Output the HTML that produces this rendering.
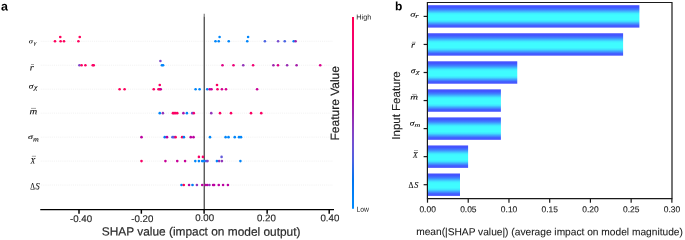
<!DOCTYPE html>
<html><head><meta charset="utf-8"><style>
html,body{margin:0;padding:0;background:#fff;}
body{width:685px;height:240px;overflow:hidden;}
svg{display:block;will-change:transform;}
text{text-rendering:geometricPrecision;}

</style></head><body>
<svg width="685" height="240" viewBox="0 0 685 240">
<defs>
<linearGradient id="cb" x1="0" y1="1" x2="0" y2="0"><stop offset="0.00" stop-color="#008bfb"/><stop offset="0.05" stop-color="#0084f9"/><stop offset="0.10" stop-color="#007cf5"/><stop offset="0.15" stop-color="#0074f0"/><stop offset="0.20" stop-color="#236cea"/><stop offset="0.25" stop-color="#4b63e3"/><stop offset="0.30" stop-color="#6359da"/><stop offset="0.35" stop-color="#754fd1"/><stop offset="0.40" stop-color="#8443c6"/><stop offset="0.45" stop-color="#9135ba"/><stop offset="0.50" stop-color="#9b23ad"/><stop offset="0.55" stop-color="#ab15a7"/><stop offset="0.60" stop-color="#bb00a0"/><stop offset="0.65" stop-color="#c80098"/><stop offset="0.70" stop-color="#d5008f"/><stop offset="0.75" stop-color="#e00086"/><stop offset="0.80" stop-color="#e9007c"/><stop offset="0.85" stop-color="#f20072"/><stop offset="0.90" stop-color="#f90067"/><stop offset="0.95" stop-color="#fe005c"/><stop offset="1.00" stop-color="#ff0051"/></linearGradient>
<linearGradient id="bar" x1="0" y1="0" x2="0" y2="1">
<stop offset="0" stop-color="#4650ff"/>
<stop offset="0.1" stop-color="#4258ff"/>
<stop offset="0.2" stop-color="#4082ff"/>
<stop offset="0.3" stop-color="#3fc4ff"/>
<stop offset="0.38" stop-color="#3ff2ff"/>
<stop offset="0.46" stop-color="#3ffcff"/>
<stop offset="0.64" stop-color="#3ffcff"/>
<stop offset="0.72" stop-color="#3fe2ff"/>
<stop offset="0.8" stop-color="#40a8ff"/>
<stop offset="0.9" stop-color="#4262ff"/>
<stop offset="1" stop-color="#4650ff"/>
</linearGradient>
</defs>
<rect width="685" height="240" fill="#fff"/>
<text transform="translate(1.1,10.4) rotate(0.05)" font-family="Liberation Sans" font-weight="bold" font-size="12.5" fill="#000">a</text>
<line x1="40.8" y1="41.25" x2="333" y2="41.25" stroke="#e2e2e2" stroke-width="0.5" stroke-dasharray="0.9 1.0"/>
<line x1="40.8" y1="65.22" x2="333" y2="65.22" stroke="#e2e2e2" stroke-width="0.5" stroke-dasharray="0.9 1.0"/>
<line x1="40.8" y1="89.19" x2="333" y2="89.19" stroke="#e2e2e2" stroke-width="0.5" stroke-dasharray="0.9 1.0"/>
<line x1="40.8" y1="113.16" x2="333" y2="113.16" stroke="#e2e2e2" stroke-width="0.5" stroke-dasharray="0.9 1.0"/>
<line x1="40.8" y1="137.13" x2="333" y2="137.13" stroke="#e2e2e2" stroke-width="0.5" stroke-dasharray="0.9 1.0"/>
<line x1="40.8" y1="161.1" x2="333" y2="161.1" stroke="#e2e2e2" stroke-width="0.5" stroke-dasharray="0.9 1.0"/>
<line x1="40.8" y1="185.07" x2="333" y2="185.07" stroke="#e2e2e2" stroke-width="0.5" stroke-dasharray="0.9 1.0"/>
<line x1="204.25" y1="13.75" x2="204.25" y2="16.6" stroke="#8a8a8a" stroke-width="1.3"/><line x1="204.25" y1="16.6" x2="204.25" y2="209.6" stroke="#4a4a4a" stroke-width="1.3"/>
<circle cx="55" cy="41.25" r="1.3" fill="#fe005c"/>
<circle cx="60.6" cy="41.25" r="1.3" fill="#fe005c"/>
<circle cx="60.25" cy="37.05" r="1.3" fill="#fe005c"/>
<circle cx="64" cy="41.25" r="1.3" fill="#fe005c"/>
<circle cx="78.4" cy="41.25" r="1.3" fill="#fe005c"/>
<circle cx="79.75" cy="37.05" r="1.3" fill="#fe005c"/>
<circle cx="215.5" cy="41.25" r="1.3" fill="#0086fa"/>
<circle cx="218.75" cy="41.25" r="1.3" fill="#0086fa"/>
<circle cx="219.6" cy="37.05" r="1.3" fill="#0086fa"/>
<circle cx="228.75" cy="41.25" r="1.3" fill="#0086fa"/>
<circle cx="247.25" cy="41.25" r="1.3" fill="#0086fa"/>
<circle cx="248.1" cy="37.05" r="1.3" fill="#0086fa"/>
<circle cx="264.9" cy="41.25" r="1.3" fill="#4b63e3"/>
<circle cx="278.1" cy="41.25" r="1.3" fill="#784ccf"/>
<circle cx="284.75" cy="41.25" r="1.3" fill="#4b63e3"/>
<circle cx="293.75" cy="41.25" r="1.3" fill="#007ff7"/>
<circle cx="295.6" cy="41.25" r="1.3" fill="#9b23ad"/>
<circle cx="79.4" cy="65.22" r="1.3" fill="#8443c6"/>
<circle cx="81.6" cy="65.22" r="1.3" fill="#fb0063"/>
<circle cx="85.4" cy="65.22" r="1.3" fill="#fb0063"/>
<circle cx="92.75" cy="65.22" r="1.3" fill="#fb0063"/>
<circle cx="93.75" cy="65.22" r="1.3" fill="#fb0063"/>
<circle cx="160.4" cy="61.02" r="1.3" fill="#7e48ca"/>
<circle cx="161.9" cy="65.22" r="1.3" fill="#0086fa"/>
<circle cx="163.1" cy="65.22" r="1.3" fill="#0086fa"/>
<circle cx="222.5" cy="65.22" r="1.3" fill="#e00086"/>
<circle cx="233.5" cy="65.22" r="1.3" fill="#ed0078"/>
<circle cx="243.25" cy="65.22" r="1.3" fill="#9135ba"/>
<circle cx="253.1" cy="65.22" r="1.3" fill="#f20072"/>
<circle cx="273.4" cy="65.22" r="1.3" fill="#9b23ad"/>
<circle cx="278" cy="65.22" r="1.3" fill="#d9008b"/>
<circle cx="287.1" cy="65.22" r="1.3" fill="#972bb2"/>
<circle cx="296.6" cy="65.22" r="1.3" fill="#a51ba9"/>
<circle cx="320.25" cy="65.22" r="1.3" fill="#d9008b"/>
<circle cx="119.6" cy="89.19" r="1.3" fill="#fe005c"/>
<circle cx="124.6" cy="89.19" r="1.3" fill="#fe005c"/>
<circle cx="153.75" cy="89.19" r="1.3" fill="#fb0063"/>
<circle cx="158.5" cy="89.19" r="1.3" fill="#fb0063"/>
<circle cx="159.75" cy="89.19" r="1.3" fill="#f90067"/>
<circle cx="159.75" cy="84.99" r="1.3" fill="#fb0063"/>
<circle cx="160.75" cy="89.19" r="1.3" fill="#c80098"/>
<circle cx="195.6" cy="89.19" r="1.3" fill="#0086fa"/>
<circle cx="199.6" cy="89.19" r="1.3" fill="#0086fa"/>
<circle cx="207.25" cy="89.19" r="1.3" fill="#0086fa"/>
<circle cx="209.75" cy="89.19" r="1.3" fill="#c80098"/>
<circle cx="211.5" cy="89.19" r="1.3" fill="#c80098"/>
<circle cx="217.5" cy="89.19" r="1.3" fill="#f90067"/>
<circle cx="217" cy="84.99" r="1.3" fill="#fb0063"/>
<circle cx="221.9" cy="89.19" r="1.3" fill="#d5008f"/>
<circle cx="226" cy="89.19" r="1.3" fill="#d5008f"/>
<circle cx="257.1" cy="89.19" r="1.3" fill="#c80098"/>
<circle cx="159.75" cy="113.16" r="1.3" fill="#0084f9"/>
<circle cx="162.9" cy="113.16" r="1.3" fill="#9135ba"/>
<circle cx="172.9" cy="113.16" r="1.3" fill="#fb0063"/>
<circle cx="174.1" cy="113.16" r="1.3" fill="#fb0063"/>
<circle cx="175.6" cy="113.16" r="1.3" fill="#fb0063"/>
<circle cx="177.25" cy="113.16" r="1.3" fill="#fb0063"/>
<circle cx="183.4" cy="113.16" r="1.3" fill="#ab15a7"/>
<circle cx="186.9" cy="113.16" r="1.3" fill="#0084f9"/>
<circle cx="192.25" cy="113.16" r="1.3" fill="#6359da"/>
<circle cx="193.75" cy="113.16" r="1.3" fill="#f20072"/>
<circle cx="211.25" cy="113.16" r="1.3" fill="#9135ba"/>
<circle cx="220" cy="113.16" r="1.3" fill="#fb0063"/>
<circle cx="231" cy="113.16" r="1.3" fill="#fb0063"/>
<circle cx="251" cy="113.16" r="1.3" fill="#fb0063"/>
<circle cx="261.25" cy="113.16" r="1.3" fill="#fb0063"/>
<circle cx="141.5" cy="137.13" r="1.3" fill="#bb00a0"/>
<circle cx="164.75" cy="137.13" r="1.3" fill="#007cf5"/>
<circle cx="167" cy="137.13" r="1.3" fill="#bb00a0"/>
<circle cx="172.5" cy="137.13" r="1.3" fill="#4b63e3"/>
<circle cx="174" cy="137.13" r="1.3" fill="#6359da"/>
<circle cx="175.6" cy="137.13" r="1.3" fill="#fe005c"/>
<circle cx="182.1" cy="137.13" r="1.3" fill="#fe005c"/>
<circle cx="183.9" cy="137.13" r="1.3" fill="#007cf5"/>
<circle cx="190.75" cy="137.13" r="1.3" fill="#bb00a0"/>
<circle cx="193.5" cy="137.13" r="1.3" fill="#bb00a0"/>
<circle cx="210" cy="137.13" r="1.3" fill="#0086fa"/>
<circle cx="225.6" cy="137.13" r="1.3" fill="#0086fa"/>
<circle cx="228.5" cy="137.13" r="1.3" fill="#0086fa"/>
<circle cx="234.75" cy="137.13" r="1.3" fill="#0086fa"/>
<circle cx="239" cy="137.13" r="1.3" fill="#0086fa"/>
<circle cx="241" cy="137.13" r="1.3" fill="#0086fa"/>
<circle cx="141.5" cy="161.10" r="1.3" fill="#f90067"/>
<circle cx="165.4" cy="161.10" r="1.3" fill="#c80098"/>
<circle cx="177.25" cy="161.10" r="1.3" fill="#c80098"/>
<circle cx="185.1" cy="161.10" r="1.3" fill="#c80098"/>
<circle cx="195.3" cy="161.10" r="1.3" fill="#0086fa"/>
<circle cx="198.9" cy="161.10" r="1.3" fill="#0086fa"/>
<circle cx="198.9" cy="156.90" r="1.3" fill="#f90067"/>
<circle cx="202.2" cy="161.10" r="1.3" fill="#0086fa"/>
<circle cx="202.9" cy="156.90" r="1.3" fill="#f90067"/>
<circle cx="204.1" cy="161.10" r="1.3" fill="#0086fa"/>
<circle cx="206" cy="161.10" r="1.3" fill="#4b63e3"/>
<circle cx="207.5" cy="161.10" r="1.3" fill="#8443c6"/>
<circle cx="216.9" cy="161.10" r="1.3" fill="#0084f9"/>
<circle cx="219.1" cy="161.10" r="1.3" fill="#9135ba"/>
<circle cx="221.9" cy="161.10" r="1.3" fill="#9135ba"/>
<circle cx="221.6" cy="156.90" r="1.3" fill="#6359da"/>
<circle cx="240.4" cy="161.10" r="1.3" fill="#0084f9"/>
<circle cx="181.5" cy="185.07" r="1.3" fill="#0084f9"/>
<circle cx="183.75" cy="185.07" r="1.3" fill="#ff0051"/>
<circle cx="189.1" cy="185.07" r="1.3" fill="#bb00a0"/>
<circle cx="192.5" cy="185.07" r="1.3" fill="#007cf5"/>
<circle cx="196.9" cy="185.07" r="1.3" fill="#9135ba"/>
<circle cx="202.25" cy="185.07" r="1.3" fill="#bb00a0"/>
<circle cx="205.6" cy="185.07" r="1.3" fill="#bb00a0"/>
<circle cx="207.25" cy="185.07" r="1.3" fill="#bb00a0"/>
<circle cx="209.4" cy="185.07" r="1.3" fill="#9135ba"/>
<circle cx="213.1" cy="185.07" r="1.3" fill="#bb00a0"/>
<circle cx="214.1" cy="185.07" r="1.3" fill="#bb00a0"/>
<circle cx="218.75" cy="185.07" r="1.3" fill="#bb00a0"/>
<circle cx="223.1" cy="185.07" r="1.3" fill="#bb00a0"/>
<circle cx="227.9" cy="185.07" r="1.3" fill="#bb00a0"/>
<line x1="40.25" y1="209.6" x2="334" y2="209.6" stroke="#000" stroke-width="1.15"/>
<line x1="79.00" y1="209.6" x2="79.00" y2="213.7" stroke="#000" stroke-width="1.45"/>
<text transform="translate(81.05,222.0) rotate(0.05)" text-anchor="middle" font-family="Liberation Sans" font-size="9.7" fill="#262626" stroke="#262626" stroke-width="0.15">-0.40</text>
<line x1="141.35" y1="209.6" x2="141.35" y2="213.7" stroke="#000" stroke-width="1.45"/>
<text transform="translate(142.30,222.0) rotate(0.05)" text-anchor="middle" font-family="Liberation Sans" font-size="9.7" fill="#262626" stroke="#262626" stroke-width="0.15">-0.20</text>
<line x1="204.10" y1="209.6" x2="204.10" y2="213.7" stroke="#000" stroke-width="1.45"/>
<text transform="translate(204.60,220.9) rotate(0.05)" text-anchor="middle" font-family="Liberation Sans" font-size="9.7" fill="#262626" stroke="#262626" stroke-width="0.15">0.00</text>
<line x1="267.15" y1="209.6" x2="267.15" y2="213.7" stroke="#000" stroke-width="1.45"/>
<text transform="translate(266.40,221.3) rotate(0.05)" text-anchor="middle" font-family="Liberation Sans" font-size="9.7" fill="#262626" stroke="#262626" stroke-width="0.15">0.20</text>
<line x1="329.20" y1="209.6" x2="329.20" y2="213.7" stroke="#000" stroke-width="1.45"/>
<text transform="translate(329.90,221.3) rotate(0.05)" text-anchor="middle" font-family="Liberation Sans" font-size="9.7" fill="#262626" stroke="#262626" stroke-width="0.15">0.40</text>
<text transform="translate(201.1,235.6) rotate(0.05)" text-anchor="middle" font-family="Liberation Sans" font-size="11.9" fill="#2a2a2a" stroke="#2a2a2a" stroke-width="0.2">SHAP value (impact on model output)</text>
<text transform="translate(28.80,43.24) rotate(0.05) scale(1.301,1)" font-family="Liberation Serif" font-style="italic" font-size="6.45" fill="#111" stroke="#111" stroke-width="0.10">σ</text>
<text transform="translate(33.68,44.38) rotate(0.05) scale(1.319,1)" font-family="Liberation Serif" font-style="italic" font-size="5.06" fill="#111" stroke="#111" stroke-width="0.10">γ</text>
<text transform="translate(29.64,70.45) rotate(0.05) scale(1.106,1)" font-family="Liberation Serif" font-style="italic" font-size="9.36" fill="#111" stroke="#111" stroke-width="0.10">r</text>
<text transform="translate(28.77,88.38) rotate(0.05) scale(1.255,1)" font-family="Liberation Serif" font-style="italic" font-size="7.49" fill="#111" stroke="#111" stroke-width="0.10">σ</text>
<text transform="translate(33.91,89.31) rotate(0.05) scale(1.175,1)" font-family="Liberation Serif" font-style="italic" font-size="6.54" fill="#111" stroke="#111" stroke-width="0.10">χ</text>
<text transform="translate(29.40,114.20) rotate(0.05) scale(1.216,1)" font-family="Liberation Serif" font-style="italic" font-size="8.83" fill="#111" stroke="#111" stroke-width="0.10">m</text>
<text transform="translate(28.00,138.88) rotate(0.05) scale(1.431,1)" font-family="Liberation Serif" font-style="italic" font-size="6.92" fill="#111" stroke="#111" stroke-width="0.10">σ</text>
<text transform="translate(33.00,141.45) rotate(0.05) scale(1.196,1)" font-family="Liberation Serif" font-style="italic" font-size="6.70" fill="#111" stroke="#111" stroke-width="0.10">m</text>
<text transform="translate(30.55,163.45) rotate(0.05) scale(0.925,1)" font-family="Liberation Serif" font-style="italic" font-size="8.24" fill="#111" stroke="#111" stroke-width="0.10">X</text>
<text transform="translate(30.28,189.45) rotate(0.05) scale(0.754,1)" font-family="Liberation Serif" font-style="normal" font-size="9.70" fill="#111" stroke="#111" stroke-width="0.10">Δ</text>
<text transform="translate(35.45,189.35) rotate(0.05) scale(0.872,1)" font-family="Liberation Serif" font-style="italic" font-size="9.52" fill="#111" stroke="#111" stroke-width="0.10">S</text>
<line x1="31" y1="64.5" x2="34" y2="64.5" stroke="#555" stroke-width="0.55"/>
<line x1="31" y1="108.4" x2="36" y2="108.4" stroke="#555" stroke-width="0.55"/>
<line x1="31.9" y1="156.25" x2="36" y2="156.25" stroke="#555" stroke-width="0.55"/>
<rect x="352" y="17" width="2" height="191.75" fill="url(#cb)"/>
<text transform="translate(356.3,19.6) rotate(0.05)" font-family="Liberation Sans" font-size="7.3" fill="#222">High</text>
<text transform="translate(356.4,211.75) rotate(0.05) scale(0.92,1)" font-family="Liberation Sans" font-size="7.4" fill="#222">Low</text>
<text transform="translate(338.7,103.3) rotate(-90)" text-anchor="middle" font-family="Liberation Sans" font-size="12" fill="#222" stroke="#222" stroke-width="0.2">Feature Value</text>
<text transform="translate(394.9,10.35) rotate(0.05)" font-family="Liberation Sans" font-weight="bold" font-size="12" fill="#000">b</text>
<rect x="427.5" y="5.20" width="211.90" height="22.4" fill="url(#bar)"/>
<line x1="423.6" y1="16.40" x2="427.5" y2="16.40" stroke="#1a1a1a" stroke-width="1.2"/>
<rect x="427.5" y="33.25" width="195.60" height="22.4" fill="url(#bar)"/>
<line x1="423.6" y1="44.45" x2="427.5" y2="44.45" stroke="#1a1a1a" stroke-width="1.2"/>
<rect x="427.5" y="61.30" width="89.75" height="22.4" fill="url(#bar)"/>
<line x1="423.6" y1="72.50" x2="427.5" y2="72.50" stroke="#1a1a1a" stroke-width="1.2"/>
<rect x="427.5" y="89.35" width="73.40" height="22.4" fill="url(#bar)"/>
<line x1="423.6" y1="100.55" x2="427.5" y2="100.55" stroke="#1a1a1a" stroke-width="1.2"/>
<rect x="427.5" y="117.40" width="73.40" height="22.4" fill="url(#bar)"/>
<line x1="423.6" y1="128.60" x2="427.5" y2="128.60" stroke="#1a1a1a" stroke-width="1.2"/>
<rect x="427.5" y="145.45" width="40.60" height="22.4" fill="url(#bar)"/>
<line x1="423.6" y1="156.65" x2="427.5" y2="156.65" stroke="#1a1a1a" stroke-width="1.2"/>
<rect x="427.5" y="173.50" width="32.50" height="22.4" fill="url(#bar)"/>
<line x1="423.6" y1="184.70" x2="427.5" y2="184.70" stroke="#1a1a1a" stroke-width="1.2"/>
<path d="M427.4,2.5 H672 V198.6 H427.4 Z" fill="none" stroke="#1a1a1a" stroke-width="1.2"/>
<line x1="427.50" y1="198.6" x2="427.50" y2="202.7" stroke="#1a1a1a" stroke-width="1.2"/>
<text transform="translate(427.60,212.2) rotate(0.05)" text-anchor="middle" font-family="Liberation Sans" font-size="8.45" fill="#1a1a1a" stroke="#1a1a1a" stroke-width="0.12">0.00</text>
<line x1="468.23" y1="198.6" x2="468.23" y2="202.7" stroke="#1a1a1a" stroke-width="1.2"/>
<text transform="translate(468.33,212.2) rotate(0.05)" text-anchor="middle" font-family="Liberation Sans" font-size="8.45" fill="#1a1a1a" stroke="#1a1a1a" stroke-width="0.12">0.05</text>
<line x1="508.96" y1="198.6" x2="508.96" y2="202.7" stroke="#1a1a1a" stroke-width="1.2"/>
<text transform="translate(509.06,212.2) rotate(0.05)" text-anchor="middle" font-family="Liberation Sans" font-size="8.45" fill="#1a1a1a" stroke="#1a1a1a" stroke-width="0.12">0.10</text>
<line x1="549.69" y1="198.6" x2="549.69" y2="202.7" stroke="#1a1a1a" stroke-width="1.2"/>
<text transform="translate(549.79,212.2) rotate(0.05)" text-anchor="middle" font-family="Liberation Sans" font-size="8.45" fill="#1a1a1a" stroke="#1a1a1a" stroke-width="0.12">0.15</text>
<line x1="590.42" y1="198.6" x2="590.42" y2="202.7" stroke="#1a1a1a" stroke-width="1.2"/>
<text transform="translate(590.52,212.2) rotate(0.05)" text-anchor="middle" font-family="Liberation Sans" font-size="8.45" fill="#1a1a1a" stroke="#1a1a1a" stroke-width="0.12">0.20</text>
<line x1="631.15" y1="198.6" x2="631.15" y2="202.7" stroke="#1a1a1a" stroke-width="1.2"/>
<text transform="translate(631.25,212.2) rotate(0.05)" text-anchor="middle" font-family="Liberation Sans" font-size="8.45" fill="#1a1a1a" stroke="#1a1a1a" stroke-width="0.12">0.25</text>
<line x1="671.88" y1="198.6" x2="671.88" y2="202.7" stroke="#1a1a1a" stroke-width="1.2"/>
<text transform="translate(671.98,212.2) rotate(0.05)" text-anchor="middle" font-family="Liberation Sans" font-size="8.45" fill="#1a1a1a" stroke="#1a1a1a" stroke-width="0.12">0.30</text>
<text transform="translate(416.2,235.1) rotate(0.05)" font-family="Liberation Sans" font-size="10.2" fill="#1a1a1a" stroke="#1a1a1a" stroke-width="0.08">mean(|SHAP value|) (average impact on model magnitude)</text>
<text transform="translate(400.3,105.5) rotate(-90)" text-anchor="middle" font-family="Liberation Sans" font-size="11.5" fill="#222" stroke="#222" stroke-width="0.1">Input Feature</text>
<text transform="translate(410.24,16.38) rotate(0.05) scale(1.425,1)" font-family="Liberation Serif" font-style="italic" font-size="7.30" fill="#111" stroke="#111" stroke-width="0.12">σ</text>
<text transform="translate(415.22,17.95) rotate(0.05) scale(1.333,1)" font-family="Liberation Serif" font-style="italic" font-size="6.17" fill="#111" stroke="#111" stroke-width="0.12">r</text>
<text transform="translate(410.89,47.70) rotate(0.05) scale(1.173,1)" font-family="Liberation Serif" font-style="italic" font-size="8.83" fill="#111" stroke="#111" stroke-width="0.12">r</text>
<text transform="translate(410.77,72.88) rotate(0.05) scale(1.271,1)" font-family="Liberation Serif" font-style="italic" font-size="7.39" fill="#111" stroke="#111" stroke-width="0.12">σ</text>
<text transform="translate(415.91,73.72) rotate(0.05) scale(1.325,1)" font-family="Liberation Serif" font-style="italic" font-size="5.80" fill="#111" stroke="#111" stroke-width="0.12">χ</text>
<text transform="translate(410.15,99.45) rotate(0.05) scale(1.383,1)" font-family="Liberation Serif" font-style="italic" font-size="7.77" fill="#111" stroke="#111" stroke-width="0.12">m</text>
<text transform="translate(409.77,125.38) rotate(0.05) scale(1.255,1)" font-family="Liberation Serif" font-style="italic" font-size="7.49" fill="#111" stroke="#111" stroke-width="0.12">σ</text>
<text transform="translate(414.50,126.70) rotate(0.05) scale(1.570,1)" font-family="Liberation Serif" font-style="italic" font-size="5.11" fill="#111" stroke="#111" stroke-width="0.12">m</text>
<text transform="translate(413.05,157.70) rotate(0.05) scale(0.884,1)" font-family="Liberation Serif" font-style="italic" font-size="8.63" fill="#111" stroke="#111" stroke-width="0.12">X</text>
<text transform="translate(408.51,187.95) rotate(0.05) scale(0.867,1)" font-family="Liberation Serif" font-style="normal" font-size="8.94" fill="#111" stroke="#111" stroke-width="0.12">Δ</text>
<text transform="translate(414.20,187.86) rotate(0.05) scale(0.946,1)" font-family="Liberation Serif" font-style="italic" font-size="8.77" fill="#111" stroke="#111" stroke-width="0.12">S</text>
<line x1="412" y1="42.25" x2="415.75" y2="42.25" stroke="#555" stroke-width="0.5"/>
<line x1="412" y1="94.4" x2="416.75" y2="94.4" stroke="#555" stroke-width="0.5"/>
<line x1="414" y1="150.5" x2="418" y2="150.5" stroke="#555" stroke-width="0.5"/>
</svg>
</body></html>
